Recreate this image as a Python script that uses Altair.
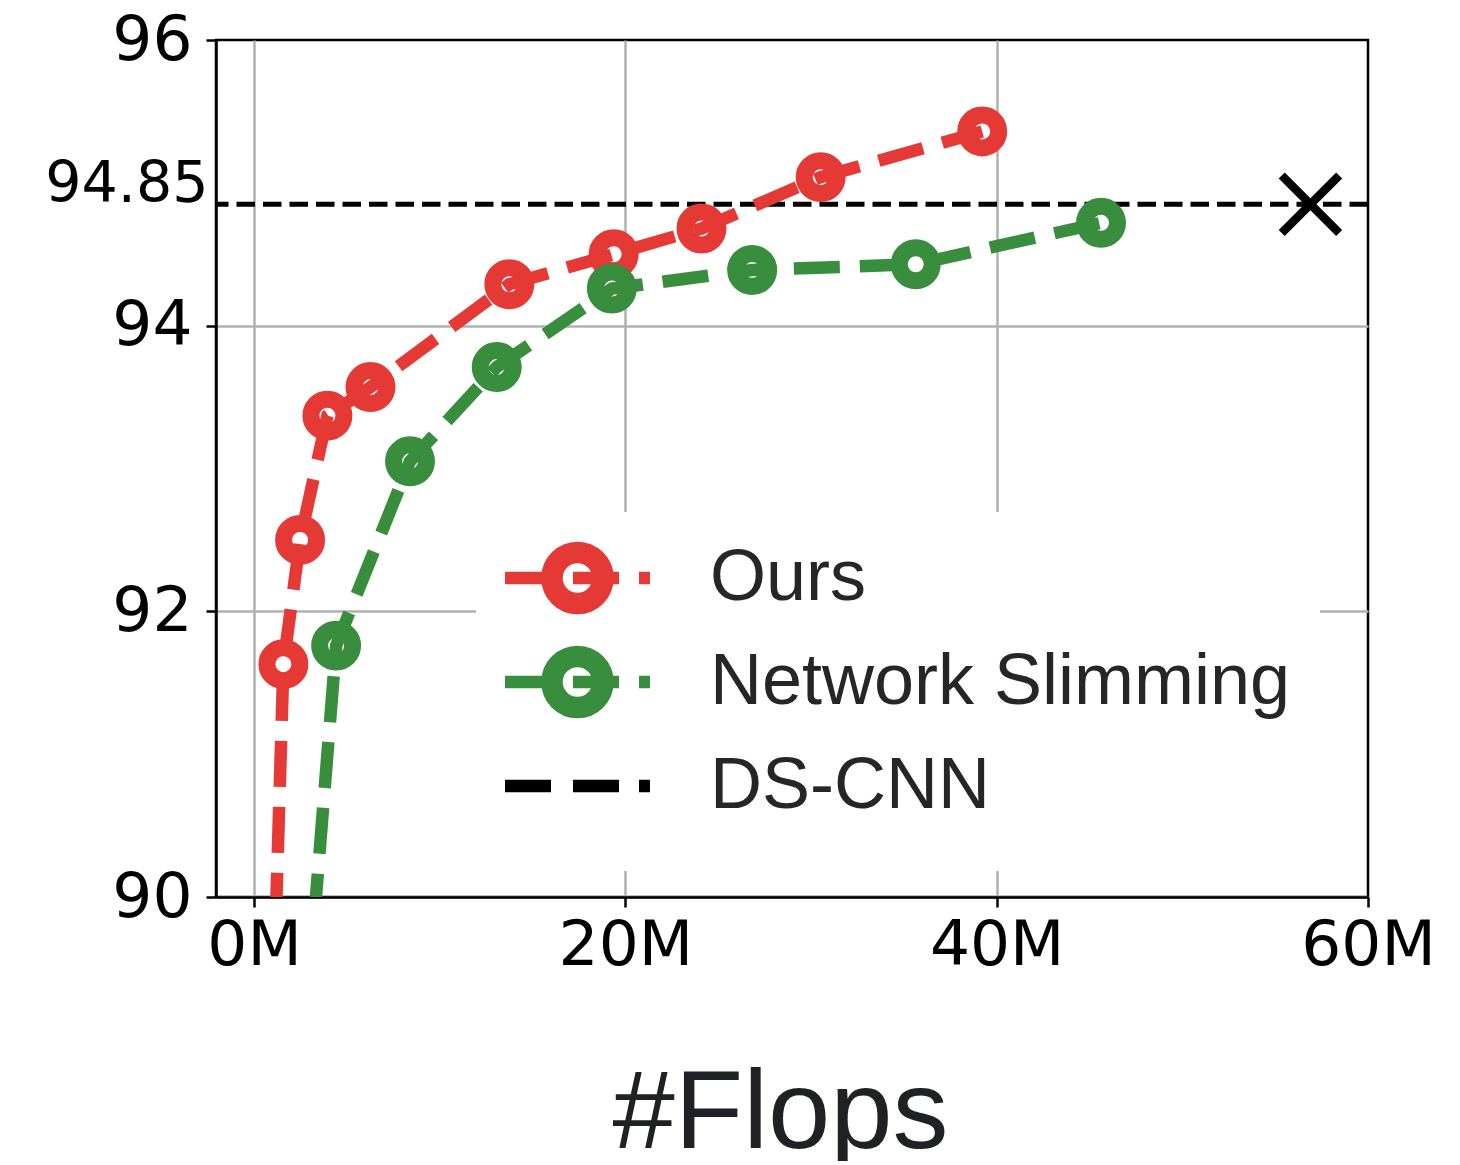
import altair as alt
import pandas as pd

# ---------------- data ----------------
series_names = ["Ours", "Network Slimming", "DS-CNN"]
series_colors = ["#E53935", "#388E3C", "#000000"]

ours_flops = [0.75, 1.58, 2.48, 3.95, 6.27, 13.75, 19.37, 24.10, 30.52, 39.22]
ours_acc = [88.0, 91.63, 92.50, 93.37, 93.57, 94.29, 94.50, 94.68, 95.04, 95.36]

ns_flops = [2.1, 4.42, 8.40, 13.07, 19.27, 26.83, 35.64, 45.62]
ns_acc = [88.0, 91.76, 93.05, 93.71, 94.26, 94.39, 94.43, 94.72]

dscnn_flops = [56.9]
dscnn_acc = [94.85]

x_ticks = [0, 20, 40, 60]
y_ticks = [90, 92, 94, 94.85, 96]

ours_df = pd.DataFrame({"series": "Ours", "flops": ours_flops, "acc": ours_acc})
ns_df = pd.DataFrame({"series": "Network Slimming", "flops": ns_flops, "acc": ns_acc})
ds_df = pd.DataFrame({"series": "DS-CNN", "flops": dscnn_flops, "acc": dscnn_acc})

RED, GREEN, BLACK = series_colors

x_scale = alt.Scale(domain=[-2.05, 60], nice=False, zero=False)
y_scale = alt.Scale(domain=[90, 96], nice=False, zero=False)

is_ref = "datum.value == 94.85"


def cond(test, a, b):
    return {"condition": {"test": test, "value": a}, "value": b}


x_axis = alt.Axis(
    values=x_ticks, title="#Flops", labelExpr="datum.value + 'M'",
    labelFont="DejaVu Sans", labelFontSize=63, labelColor="black",
    labelPadding=7, labelFlush=False, labelOverlap=False,
    tickSize=10, tickWidth=2.5, tickColor="black",
    grid=True, gridColor="#b0b0b0", gridWidth=2.5,
    gridOpacity=cond("datum.value == 60", 0, 1),
    domainColor="black", domainWidth=2.5,
    titleFont="Liberation Sans", titleFontSize=112, titleColor="#202124",
    titleFontWeight="normal", titleX=564, titleY=250,
    titleBaseline="alphabetic", titleAlign="center",
)

y_axis = alt.Axis(
    values=y_ticks, title=None, labelExpr="'' + datum.value",
    labelFont="DejaVu Sans", labelColor="black",
    labelFontSize=cond(is_ref, 57, 63),
    labelPadding=cond(is_ref, -2, 14),
    labelOffset=cond(is_ref, -20, 0),
    labelFlush=False, labelOverlap=False,
    tickSize=10, tickWidth=2.5, tickColor="black",
    tickOpacity=cond(is_ref, 0, 1),
    grid=True, gridColor="#b0b0b0", gridWidth=2.5,
    gridOpacity=cond(is_ref + " || datum.value == 96", 0, 1),
    domainColor="black", domainWidth=2.5,
)


# legend symbol: dashed line segments plus a thick ring (two concentric strokes)
def circle_path(cx, r):
    k = 0.5523 * r
    f = lambda v: ("%.3f" % v)
    return (
        "M%s,0" % f(cx + r)
        + "C%s,%s %s,%s %s,%s" % (f(cx + r), f(k), f(cx + k), f(r), f(cx), f(r))
        + "C%s,%s %s,%s %s,0" % (f(cx - k), f(r), f(cx - r), f(k), f(cx - r))
        + "C%s,%s %s,%s %s,%s" % (f(cx - r), f(-k), f(cx - k), f(-r), f(cx), f(-r))
        + "C%s,%s %s,%s %s,0" % (f(cx + k), f(-r), f(cx + r), f(-k), f(cx + r))
    )


dash_path = "M-1.203,0L0.293,0M1.008,0L2.504,0M3.154,0L3.512,0"
# zero-length (invisible) sub-paths give the plain dashed symbol the same height
spacer_path = "M1.154,-0.976L1.154,-0.976M1.154,0.976L1.154,0.976"
ring_path = circle_path(1.154, 0.683) + circle_path(1.154, 0.976)
shape_expr = "datum.value === 'DS-CNN' ? '%s' : '%s'" % (
    dash_path + spacer_path, dash_path + ring_path)

legend = alt.Legend(
    title=None, orient="none", legendX=260, legendY=472,
    padding=29, fillColor="white",
    symbolType={"expr": shape_expr},
    symbolSize=3782, symbolStrokeWidth=12.5, symbolFillColor="transparent",
    symbolOpacity=1, rowPadding=-8,
    labelOffset=131, labelFontSize=72, labelFont="Liberation Sans",
    labelColor="#262626", labelLimit=0,
)

color_scale = alt.Scale(domain=series_names, range=series_colors)

line_props = dict(clip=True, strokeCap="butt")
point_props = dict(shape="circle", filled=False, size=1087, strokeWidth=17,
                   opacity=1, clip=True)

enc_xy = dict(
    x=alt.X("flops:Q", scale=x_scale, axis=x_axis),
    y=alt.Y("acc:Q", scale=y_scale, axis=y_axis),
)

# DS-CNN reference line
ref_rule = alt.Chart(ds_df).mark_rule(
    color=BLACK, strokeWidth=5, strokeDash=[18.5, 8]
).encode(y=alt.Y("acc:Q", scale=y_scale, axis=y_axis))

ours_line = alt.Chart(ours_df).mark_line(**line_props).encode(
    color=alt.Color("series:N", scale=color_scale, legend=legend),
    strokeDash=alt.value([46, 20]),
    strokeWidth=alt.value(12.5),
    order=alt.Order("flops:Q"),
    **enc_xy,
)
ours_pts = alt.Chart(ours_df).mark_point(color=RED, **point_props).encode(**enc_xy)
ns_line = alt.Chart(ns_df).mark_line(**line_props).encode(
    color=alt.Color("series:N", scale=color_scale, legend=legend),
    strokeDash=alt.value([46, 20]),
    strokeWidth=alt.value(12.5),
    order=alt.Order("flops:Q"),
    **enc_xy,
)
ns_pts = alt.Chart(ns_df).mark_point(color=GREEN, **point_props).encode(**enc_xy)
ds_marker = alt.Chart(ds_df).mark_point(
    shape="M-1,-1L1,1M-1,1L1,-1", filled=False, size=3300, strokeWidth=8.5,
    color=BLACK, opacity=1,
).encode(**enc_xy)

chart = alt.layer(
    ref_rule, ours_line, ours_pts, ns_line, ns_pts, ds_marker
).properties(
    width=1152, height=857,
    padding={"left": 208, "top": 32, "right": 84, "bottom": 264},
    autosize=alt.AutoSizeParams(type="none"),
    background="white",
).configure_view(
    stroke="black", strokeWidth=2.5
)

chart.save("out.html", embed_options={"renderer": "svg", "actions": False})
